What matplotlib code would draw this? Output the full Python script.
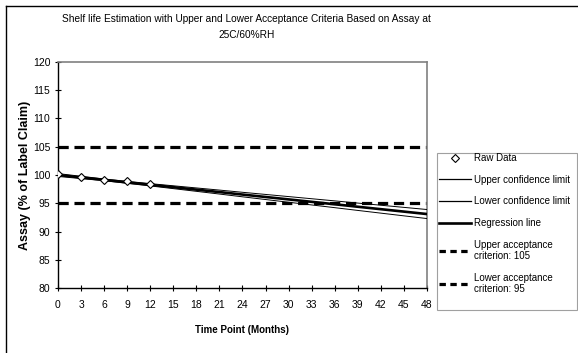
import matplotlib.pyplot as plt
from matplotlib.lines import Line2D
from matplotlib.patches import Rectangle

plt.rcParams['font.family'] = ['Liberation Sans', 'DejaVu Sans']

# datos
meses_raw = [0, 3, 6, 9, 12]
assay_raw = [100.1, 99.7, 99.2, 98.9, 98.4]

meses = [0, 3, 6, 9, 12, 15, 18, 21, 24, 27, 30, 33, 36, 39, 42, 45, 48]
regresion = [100.0, 99.57, 99.14, 98.7, 98.27, 97.84, 97.41, 96.98, 96.54,
             96.11, 95.68, 95.25, 94.82, 94.38, 93.95, 93.52, 93.09]
limite_sup = [100.25, 99.77, 99.29, 98.87, 98.47, 98.09, 97.71, 97.33, 96.94,
              96.56, 96.18, 95.8, 95.42, 95.03, 94.65, 94.27, 93.89]
limite_inf = [99.75, 99.37, 98.99, 98.53, 98.07, 97.59, 97.11, 96.63, 96.14,
              95.66, 95.18, 94.7, 94.22, 93.73, 93.25, 92.77, 92.29]
criterio_sup = 105
criterio_inf = 95

fig = plt.figure(figsize=(5.78, 3.53), dpi=100)
ax = fig.add_axes([0.1003, 0.1841, 0.6385, 0.6403])

ax.plot(meses, limite_sup, color='black', lw=0.7, label='Upper confidence limit', zorder=3)
ax.plot(meses, limite_inf, color='black', lw=0.7, label='Lower confidence limit', zorder=3)
ax.plot(meses, regresion, color='black', lw=1.9, label='Regression line', zorder=4)
ax.plot(meses_raw, assay_raw, linestyle='none', marker='D', markersize=3.6,
        markerfacecolor='white', markeredgecolor='black', markeredgewidth=0.8,
        label='Raw Data', zorder=5)
ax.axhline(criterio_sup, color='black', lw=2.3, dashes=(3.2, 1.8), zorder=2)
ax.axhline(criterio_inf, color='black', lw=2.3, dashes=(3.2, 1.8), zorder=2)

ax.set_xlim(0, 48)
ax.set_ylim(80, 120)
ax.set_xticks(range(0, 49, 3))
ax.set_yticks(range(80, 121, 5))
ax.tick_params(direction='inout', length=5, width=0.8, labelsize=7.5)
ax.tick_params(axis='x', pad=6)
ax.tick_params(axis='y', pad=3)

for lado in ['top', 'right']:
    ax.spines[lado].set_color('#808080')
    ax.spines[lado].set_linewidth(1.2)
for lado in ['left', 'bottom']:
    ax.spines[lado].set_color('black')
    ax.spines[lado].set_linewidth(1.0)

ax.set_xlabel('Time Point (Months)', fontsize=7, fontweight='bold', labelpad=11)
ax.set_ylabel('Assay (% of Label Claim)', fontsize=9, fontweight='bold', labelpad=1)

fig.text(0.4265, 0.945, 'Shelf life Estimation with Upper and Lower Acceptance Criteria Based on Assay at',
         ha='center', va='center', fontsize=7.3)
fig.text(0.4265, 0.901, '25C/60%RH', ha='center', va='center', fontsize=7.3)

# leyenda
handles = [
    Line2D([], [], linestyle='none', marker='D', markersize=3.6, markerfacecolor='white',
           markeredgecolor='black', markeredgewidth=0.8),
    Line2D([], [], color='black', lw=0.9),
    Line2D([], [], color='black', lw=0.9),
    Line2D([], [], color='black', lw=1.9),
    Line2D([], [], color='black', lw=2.3, dashes=(2.0, 1.4)),
    Line2D([], [], color='black', lw=2.3, dashes=(2.0, 1.4)),
]
etiquetas = ['Raw Data', 'Upper confidence limit', 'Lower confidence limit',
             'Regression line', 'Upper acceptance\ncriterion: 105',
             'Lower acceptance\ncriterion: 95']
leg = fig.legend(handles, etiquetas, loc='upper left',
                 bbox_to_anchor=(437 / 578, 1 - 151 / 353, 140 / 578, 0),
                 mode='expand', fontsize=7, frameon=False,
                 handlelength=3.3, handletextpad=0.3, labelspacing=1.2,
                 borderaxespad=0, borderpad=0.2)
fig.add_artist(Rectangle((437 / 578, 1 - 310 / 353), 140 / 578, 157 / 353,
                         transform=fig.transFigure, fill=False,
                         edgecolor='#a0a0a0', lw=0.8))

# marco exterior
fig.add_artist(Line2D([6 / 578, 6 / 578], [0, 1 - 6 / 353], color='black', lw=1.0,
                      transform=fig.transFigure))
fig.add_artist(Line2D([6 / 578, 1], [1 - 6 / 353, 1 - 6 / 353], color='black', lw=1.0,
                      transform=fig.transFigure))

fig.savefig('out.png', dpi=100)
